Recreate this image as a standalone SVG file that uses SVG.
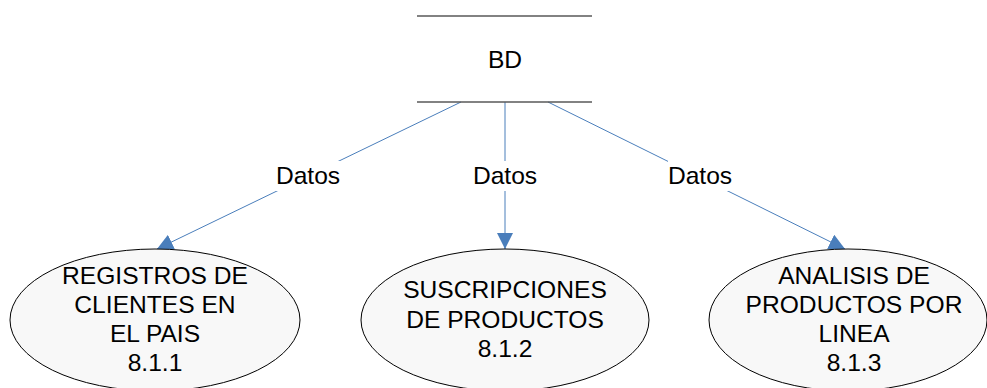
<svg xmlns="http://www.w3.org/2000/svg" width="987" height="388" viewBox="0 0 987 388">
<style>
text{font-family:"Liberation Sans",Arial,sans-serif;font-size:24.6px;fill:#000;text-anchor:middle}
.store{stroke:#595959;stroke-width:1.5}
.proc{fill:#f8f8f8;stroke:#000;stroke-width:1}
.flow{stroke:#4a7ebb;stroke-width:1;fill:none}
.lbl{fill:#fff}
</style>
<defs>
<marker id="ah" markerWidth="16" markerHeight="16" refX="16" refY="8" orient="auto" markerUnits="userSpaceOnUse">
<path d="M0,0 L16,8 L0,16 Z" fill="#4a7ebb"/>
</marker>
</defs>
<rect width="987" height="388" fill="#fff"/>
<g id="connectors">
<line class="flow" x1="461" y1="102" x2="157" y2="249" marker-end="url(#ah)"/>
<line class="flow" x1="505" y1="102" x2="505" y2="249" marker-end="url(#ah)"/>
<line class="flow" x1="548" y1="102" x2="845" y2="249" marker-end="url(#ah)"/>
<rect class="lbl" x="276" y="161" width="64" height="30"/>
<text x="308" y="184">Datos</text>
<rect class="lbl" x="473" y="161" width="64" height="30"/>
<text x="505" y="184">Datos</text>
<rect class="lbl" x="668" y="161" width="64" height="30"/>
<text x="700" y="184">Datos</text>
</g>
<g id="bd">
<line class="store" x1="417" y1="16" x2="592" y2="16"/>
<line class="store" x1="417" y1="102" x2="592" y2="102"/>
<text x="505" y="68">BD</text>
</g>
<g id="p811">
<ellipse class="proc" cx="155" cy="320" rx="145" ry="71"/>
<text x="155" y="284">REGISTROS DE</text>
<text x="155" y="313">CLIENTES EN</text>
<text x="155" y="342">EL PAIS</text>
<text x="155" y="371">8.1.1</text>
</g>
<g id="p812">
<ellipse class="proc" cx="505" cy="320" rx="144" ry="71"/>
<text x="505" y="298">SUSCRIPCIONES</text>
<text x="505" y="328">DE PRODUCTOS</text>
<text x="505" y="357">8.1.2</text>
</g>
<g id="p813">
<ellipse class="proc" cx="848" cy="320" rx="139" ry="71"/>
<text x="854" y="284">ANALISIS DE</text>
<text x="854" y="313">PRODUCTOS POR</text>
<text x="854" y="342">LINEA</text>
<text x="854" y="371">8.1.3</text>
</g>
</svg>
